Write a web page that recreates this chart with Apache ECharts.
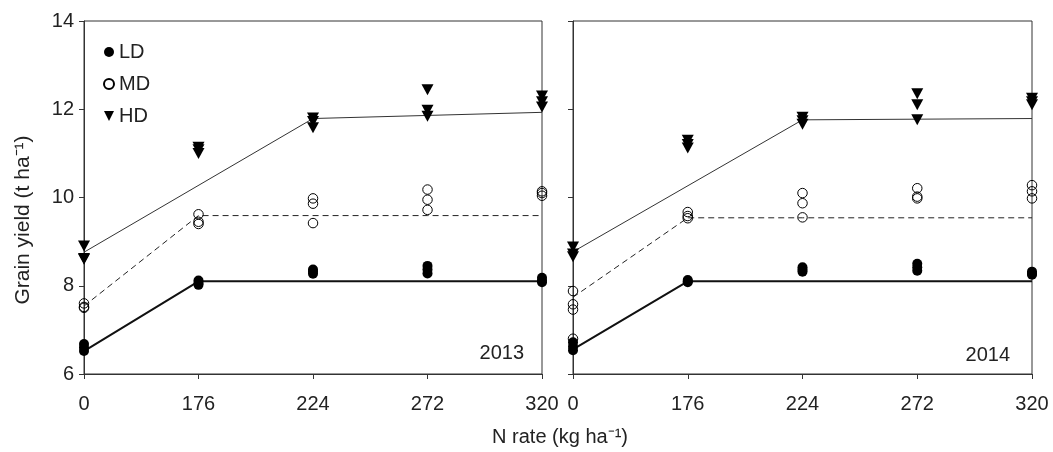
<!DOCTYPE html>
<html>
<head>
<meta charset="utf-8">
<script src="https://cdn.jsdelivr.net/npm/echarts@6/dist/echarts.min.js"></script>
<style>
html,body{margin:0;padding:0;background:#fff;}
#chart{width:1053px;height:452px;}
</style>
</head>
<body>
<div id="chart"></div>
<script>
// ---- data ----
const categories = ['0', '176', '224', '272', '320'];
const yTicks = [6, 8, 10, 12, 14];
const years = ['2013', '2014'];

// replicate observations per N rate (index matches categories)
const ld2013 = [[6.68, 6.60, 6.52], [8.12, 8.06, 8.02], [8.37, 8.32, 8.27], [8.45, 8.37, 8.28], [8.18, 8.12, 8.08]];
const md2013 = [[7.60, 7.52, 7.50], [9.62, 9.45, 9.40], [9.98, 9.86, 9.42], [10.18, 9.95, 9.72], [10.14, 10.10, 10.04]];
const hd2013 = [[8.90, 8.62, 8.60], [11.14, 11.08, 11.00], [11.80, 11.72, 11.58], [12.44, 11.98, 11.84], [12.30, 12.17, 12.05]];

const ld2014 = [[6.72, 6.62, 6.54], [8.13, 8.10, 8.08], [8.42, 8.36, 8.32], [8.50, 8.42, 8.34], [8.32, 8.28, 8.25]];
const md2014 = [[7.88, 7.58, 7.46, 6.80], [9.67, 9.58, 9.53], [10.10, 9.87, 9.55], [10.21, 10.02, 9.98], [10.28, 10.14, 9.98]];
const hd2014 = [[8.88, 8.72, 8.66], [11.30, 11.20, 11.12], [11.82, 11.74, 11.66], [12.35, 12.10, 11.76], [12.25, 12.17, 12.10]];

// fitted response lines (null = no vertex there)
const fitLD2013 = [6.52, 8.10, 8.10, 8.10, 8.10];
const fitMD2013 = [7.54, 9.59, 9.59, 9.59, 9.59];
const fitHD2013 = [8.76, null, 11.79, null, 11.93];
const fitLD2014 = [6.56, 8.10, 8.10, 8.10, 8.10];
const fitMD2014 = [7.74, 9.54, 9.54, 9.54, 9.54];
const fitHD2014 = [8.77, null, 11.76, null, 11.79];

// ---- build ----
const FONT = 'Liberation Sans, Arial, Helvetica, sans-serif';
const TXT = '#222';
const AX = '#333';
const TRI = 'path://M0,0 L10,0 L5,10 Z';

function pts(arr) {
  const out = [];
  arr.forEach((vals, i) => vals.forEach(v => out.push([i, v])));
  return out;
}

const panels = [
  { ld: ld2013, md: md2013, hd: hd2013, fld: fitLD2013, fmd: fitMD2013, fhd: fitHD2013 },
  { ld: ld2014, md: md2014, hd: hd2014, fld: fitLD2014, fmd: fitMD2014, fhd: fitHD2014 }
];

const grids = [
  { left: 84, top: 21, width: 458, height: 353 },
  { left: 573, top: 21, width: 459, height: 353 }
];
grids.forEach(g => { g.show = true; g.borderColor = AX; g.borderWidth = 1; g.backgroundColor = 'transparent'; });

const xAxes = grids.map((g, i) => ({
  type: 'category', gridIndex: i, data: categories, boundaryGap: false,
  axisLine: { lineStyle: { color: AX, width: 1 } },
  axisTick: { show: true, inside: false, length: 5, alignWithLabel: true, lineStyle: { color: AX } },
  axisLabel: { color: TXT, fontFamily: FONT, fontSize: 20, margin: 20, interval: 0 },
  splitLine: { show: false }
}));

const yAxes = grids.map((g, i) => ({
  type: 'value', gridIndex: i, min: yTicks[0], max: yTicks[yTicks.length - 1], interval: 2,
  axisLine: { show: true, lineStyle: { color: AX, width: 1 } },
  axisTick: { show: true, inside: false, length: 5, lineStyle: { color: AX } },
  axisLabel: { show: i === 0, color: TXT, fontFamily: FONT, fontSize: 20, margin: 10 },
  splitLine: { show: false }
}));

const series = [];
panels.forEach((p, i) => {
  series.push({ name: 'LD fit', type: 'line', xAxisIndex: i, yAxisIndex: i, data: p.fld, symbol: 'none', connectNulls: true, silent: true, lineStyle: { color: '#111', width: 2 }, z: 2 });
  series.push({ name: 'MD fit', type: 'line', xAxisIndex: i, yAxisIndex: i, data: p.fmd, symbol: 'none', connectNulls: true, silent: true, lineStyle: { color: '#222', width: 1, type: [6, 4] }, z: 2 });
  series.push({ name: 'HD fit', type: 'line', xAxisIndex: i, yAxisIndex: i, data: p.fhd, symbol: 'none', connectNulls: true, silent: true, lineStyle: { color: '#333', width: 1 }, z: 2 });
  series.push({ name: 'LD', type: 'scatter', xAxisIndex: i, yAxisIndex: i, data: pts(p.ld), symbol: 'circle', symbolSize: 10, itemStyle: { color: '#000', opacity: 1 }, z: 3 });
  series.push({ name: 'MD', type: 'scatter', xAxisIndex: i, yAxisIndex: i, data: pts(p.md), symbol: 'circle', symbolSize: 9.5, itemStyle: { color: 'rgba(255,255,255,0)', borderColor: '#000', borderWidth: 1, opacity: 1 }, z: 3 });
  series.push({ name: 'HD', type: 'scatter', xAxisIndex: i, yAxisIndex: i, data: pts(p.hd), symbol: TRI, symbolSize: [12, 11], itemStyle: { color: '#000', opacity: 1 }, z: 3 });
});

const option = {
  animation: false,
  backgroundColor: '#fff',
  grid: grids,
  xAxis: xAxes,
  yAxis: yAxes,
  legend: {
    data: ['LD', 'MD', 'HD'], orient: 'vertical', left: 103, top: 42, padding: 0,
    itemWidth: 10, itemHeight: 10, itemGap: 12,
    textStyle: { color: TXT, fontFamily: FONT, fontSize: 20, lineHeight: 20 },
    selectedMode: false
  },
  graphic: [
    { type: 'text', x: 524, y: 353, style: { text: years[0], font: '20px ' + FONT, fill: TXT, textAlign: 'right', textVerticalAlign: 'middle' } },
    { type: 'text', x: 1010, y: 355, style: { text: years[1], font: '20px ' + FONT, fill: TXT, textAlign: 'right', textVerticalAlign: 'middle' } },
    { type: 'text', x: 23, y: 220, rotation: Math.PI / 2, style: { text: 'Grain yield (t ha\u207B\u00B9)', font: '21px ' + FONT, fill: TXT, textAlign: 'center', textVerticalAlign: 'middle' } },
    { type: 'text', x: 560, y: 437, style: { text: 'N rate (kg ha\u207B\u00B9)', font: '20px ' + FONT, fill: TXT, textAlign: 'center', textVerticalAlign: 'middle' } }
  ],
  series: series
};

const chart = echarts.init(document.getElementById('chart'), null, { renderer: 'canvas' });
chart.setOption(option);
</script>
</body>
</html>
